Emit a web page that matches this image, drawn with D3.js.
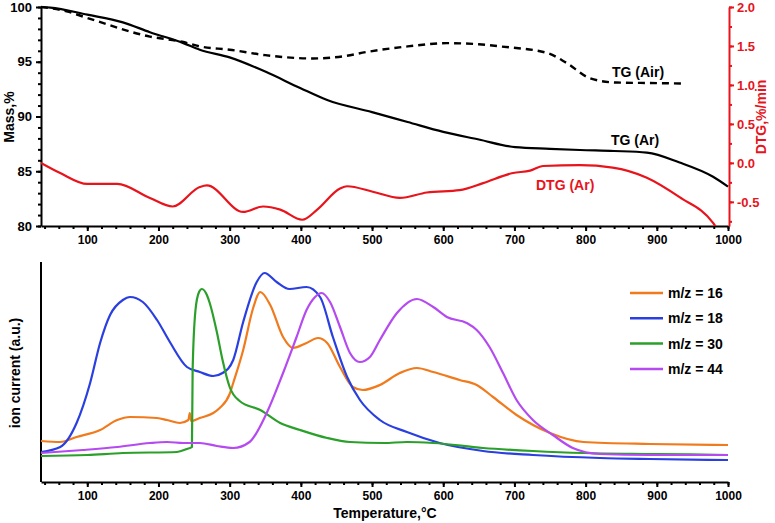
<!DOCTYPE html>
<html>
<head>
<meta charset="utf-8">
<script src="https://cdn.jsdelivr.net/npm/d3@7"></script>
<style>
  body { margin: 0; background: #fff; }
  svg { font-family: Arial, "Liberation Sans", sans-serif; }
</style>
</head>
<body>
<div id="chart"></div>
<script>
// TG / DTG (upper panel)
let tgArT = [35, 48, 100, 150, 188, 235, 258, 300, 350, 399, 437, 500, 550, 600, 650, 701, 750, 792, 840, 886, 932, 979, 1000]
let tgArV = [100, 99.95, 99.3, 98.6, 97.7, 96.7, 96.1, 95.4, 94.1, 92.6, 91.5, 90.4, 89.5, 88.6, 87.9, 87.2, 87.05, 86.94, 86.85, 86.7, 85.8, 84.5, 83.6]

let tgAirT = [35, 71, 100, 188, 235, 258, 300, 350, 417, 460, 493, 550, 605, 650, 680, 746, 773, 806, 843, 900, 940]
let tgAirV = [100, 99.6, 99.0, 97.3, 96.8, 96.4, 96.1, 95.6, 95.3, 95.5, 95.9, 96.4, 96.7, 96.6, 96.4, 95.8, 94.9, 93.5, 93.1, 93.05, 93.0]

let dtgT = [35, 62, 100, 142, 188, 220, 258, 268, 319, 347, 371, 402, 423, 455, 465, 501, 539, 577, 623, 656, 698, 722, 740, 792, 838, 886, 932, 979, 985]
let dtgV = [0.0, -0.13, -0.27, -0.27, -0.45, -0.56, -0.31, -0.29, -0.63, -0.56, -0.6, -0.73, -0.6, -0.33, -0.3, -0.37, -0.45, -0.38, -0.35, -0.26, -0.13, -0.1, -0.04, -0.03, -0.06, -0.19, -0.44, -0.77, -0.85]

// ion currents (lower panel), arbitrary units
let m16T = [35, 62, 85, 118, 142, 160, 198, 212, 230, 242, 244, 246, 258, 277, 286, 300, 305, 319, 333, 343, 357, 375, 389, 408, 424, 437, 455, 473, 487, 511, 539, 563, 586, 623, 647, 670, 703, 750, 797, 890, 1000]
let m16V = [41, 40, 45, 52, 62, 65, 64, 62, 59, 62, 69, 61, 64, 69, 74, 88, 99, 132, 174, 190, 177, 145, 134, 139, 144, 139, 115, 95, 92, 97, 109, 114, 110, 102, 97, 85, 67, 49, 40, 38, 37]

let m18T = [35, 62, 85, 104, 118, 132, 150, 160, 178, 198, 216, 240, 258, 277, 290, 305, 319, 338, 349, 366, 384, 408, 427, 445, 465, 483, 511, 549, 595, 656, 726, 820, 890, 1000]
let m18V = [30, 35, 59, 99, 139, 167, 182, 185, 180, 162, 140, 115, 110, 106, 109, 122, 160, 200, 209, 200, 193, 195, 185, 145, 105, 82, 62, 50, 39, 31, 27, 24, 23, 22]

let m30T = [35, 100, 150, 226, 240, 247, 248, 252, 257, 261, 268, 272, 282, 290, 300, 314, 343, 371, 399, 437, 469, 516, 549, 586, 656, 726, 797, 900, 1000]
let m30V = [26, 27, 29, 30, 33, 35, 112, 172, 190, 193, 187, 179, 150, 122, 95, 81, 72, 59, 52, 44, 40, 39, 40, 39, 34, 31, 29, 28, 27]

let m44T = [35, 94, 142, 188, 212, 235, 258, 282, 305, 328, 352, 375, 394, 408, 420, 429, 441, 455, 469, 483, 497, 511, 535, 563, 586, 605, 633, 647, 665, 684, 703, 726, 754, 782, 820, 890, 1000]
let m44V = [29, 32, 35, 39, 40, 39, 39, 36, 34, 40, 69, 109, 145, 172, 185, 189, 180, 155, 129, 120, 125, 142, 169, 183, 175, 165, 159, 152, 135, 109, 82, 62, 47, 34, 28, 27, 27]

let ionSeries = [
  { name: "m/z = 16", color: "#f07a1c", t: m16T, v: m16V },
  { name: "m/z = 18", color: "#2a3fe0", t: m18T, v: m18V },
  { name: "m/z = 30", color: "#2aa02a", t: m30T, v: m30V },
  { name: "m/z = 44", color: "#b44af0", t: m44T, v: m44V }
]

let xTicks = [100, 200, 300, 400, 500, 600, 700, 800, 900, 1000]
let massTicks = [80, 85, 90, 95, 100]
let dtgTicks = [-0.5, 0.0, 0.5, 1.0, 1.5, 2.0]

let width = 775, height = 523
let svg = d3.select("#chart").append("svg")
  .attr("width", width)
  .attr("height", height)

let x = d3.scaleLinear().domain([35, 1000]).range([41, 728])
let yMass = d3.scaleLinear().domain([80, 100]).range([226, 7])
let yDtg = d3.scaleLinear().domain([-0.81, 2.0]).range([226, 7])
let yIon = d3.scaleLinear().domain([0, 220]).range([482, 262])

let zip = (t, v) => t.map((d, i) => [d, v[i]])

let styleAxis = (g, color, fontSize = "12px") => {
  g.selectAll("path, line").style("stroke", color).style("stroke-width", 2)
  g.selectAll("text").style("fill", color).style("font-size", fontSize).style("font-weight", "bold")
}

// clip for upper plot
svg.append("clipPath").attr("id", "clipTop")
  .append("rect").attr("x", 41).attr("y", 0).attr("width", 688).attr("height", 226)

// ---------- upper panel ----------
let drawXAxis = (yPos) => {
  let minor = svg.append("g")
    .attr("transform", "translate(0," + yPos + ")")
    .call(d3.axisBottom(x).tickValues(d3.range(40, 1001, 20)).tickSize(3).tickFormat(""))
  minor.select(".domain").remove()
  styleAxis(minor, "black")
  let g = svg.append("g")
    .attr("transform", "translate(0," + yPos + ")")
    .call(d3.axisBottom(x).tickValues(xTicks).tickSize(5).tickPadding(4).tickSizeOuter(0).tickFormat(d => d))
  styleAxis(g, "black")
}

drawXAxis(226)

let massMinor = svg.append("g")
  .attr("transform", "translate(41,0)")
  .call(d3.axisLeft(yMass).tickValues(d3.range(80, 101, 1)).tickSize(3).tickFormat(""))
massMinor.select(".domain").remove()
styleAxis(massMinor, "black")
let massAxis = svg.append("g")
  .attr("transform", "translate(41,0)")
  .call(d3.axisLeft(yMass).tickValues(massTicks).tickSize(5).tickSizeOuter(0).tickPadding(4))
styleAxis(massAxis, "black", "13px")

let red = "#e8141c"
let dtgMinor = svg.append("g")
  .attr("transform", "translate(729,0)")
  .call(d3.axisRight(yDtg).tickValues(d3.range(-0.75, 2.01, 0.25)).tickSize(3).tickFormat(""))
dtgMinor.select(".domain").remove()
styleAxis(dtgMinor, red)
let dtgAxis = svg.append("g")
  .attr("transform", "translate(729,0)")
  .call(d3.axisRight(yDtg).tickValues(dtgTicks).tickSize(5).tickSizeOuter(0).tickPadding(3))
styleAxis(dtgAxis, red, "13px")
dtgAxis.selectAll("text").text(d => d.toFixed(1))

let lineMass = d3.line().x(d => x(d[0])).y(d => yMass(d[1])).curve(d3.curveMonotoneX)
let lineDtg = d3.line().x(d => x(d[0])).y(d => yDtg(d[1])).curve(d3.curveMonotoneX)

let topG = svg.append("g").attr("clip-path", "url(#clipTop)")
topG.append("path").datum(zip(tgAirT, tgAirV))
  .attr("d", lineMass).attr("fill", "none").attr("stroke", "black")
  .attr("stroke-width", 2.4).attr("stroke-dasharray", "7,5")
topG.append("path").datum(zip(tgArT, tgArV))
  .attr("d", lineMass).attr("fill", "none").attr("stroke", "black").attr("stroke-width", 2.2)
topG.append("path").datum(zip(dtgT, dtgV))
  .attr("d", lineDtg).attr("fill", "none").attr("stroke", red).attr("stroke-width", 2.2)

let labels = [
  { text: "TG (Air)", x: 612, y: 77, color: "black" },
  { text: "TG (Ar)", x: 611, y: 145, color: "black" },
  { text: "DTG (Ar)", x: 536, y: 190, color: red }
]
svg.selectAll("text.curveLabel")
  .data(labels)
  .enter()
  .append("text")
  .attr("class", "curveLabel")
  .attr("x", d => d.x)
  .attr("y", d => d.y)
  .attr("fill", d => d.color)
  .style("font-size", "14px")
  .style("font-weight", "bold")
  .text(d => d.text)

svg.append("text")
  .attr("transform", "translate(14,117) rotate(-90)")
  .attr("text-anchor", "middle")
  .style("font-size", "14px").style("font-weight", "bold")
  .text("Mass,%")

svg.append("text")
  .attr("transform", "translate(766,117) rotate(-90)")
  .attr("text-anchor", "middle")
  .attr("fill", red)
  .style("font-size", "14px").style("font-weight", "bold")
  .text("DTG,%/min")

// ---------- lower panel ----------
drawXAxis(482)

svg.append("line")
  .attr("x1", 41).attr("x2", 41)
  .attr("y1", yIon(220)).attr("y2", 482)
  .attr("stroke", "black").attr("stroke-width", 2)

let lineIon = d3.line().x(d => x(d[0])).y(d => yIon(d[1])).curve(d3.curveMonotoneX)

svg.selectAll("path.ion")
  .data(ionSeries)
  .enter()
  .append("path")
  .attr("class", "ion")
  .attr("d", d => lineIon(zip(d.t, d.v)))
  .attr("fill", "none")
  .attr("stroke", d => d.color)
  .attr("stroke-width", 2.2)

let legend = svg.selectAll("g.legend")
  .data(ionSeries)
  .enter()
  .append("g")
  .attr("class", "legend")
  .attr("transform", (d, i) => "translate(630," + (293 + i * 25.3) + ")")

legend.append("line")
  .attr("x1", 0).attr("x2", 33)
  .attr("stroke", d => d.color).attr("stroke-width", 2.5)

legend.append("text")
  .attr("x", 38).attr("y", 5)
  .style("font-size", "14px").style("font-weight", "bold")
  .text(d => d.name)

svg.append("text")
  .attr("transform", "translate(20,373) rotate(-90)")
  .attr("text-anchor", "middle")
  .style("font-size", "14px").style("font-weight", "bold")
  .text("ion current (a.u.)")

svg.append("text")
  .attr("x", 385).attr("y", 518)
  .attr("text-anchor", "middle")
  .style("font-size", "14px").style("font-weight", "bold")
  .text("Temperature,°C")
</script>
</body>
</html>
